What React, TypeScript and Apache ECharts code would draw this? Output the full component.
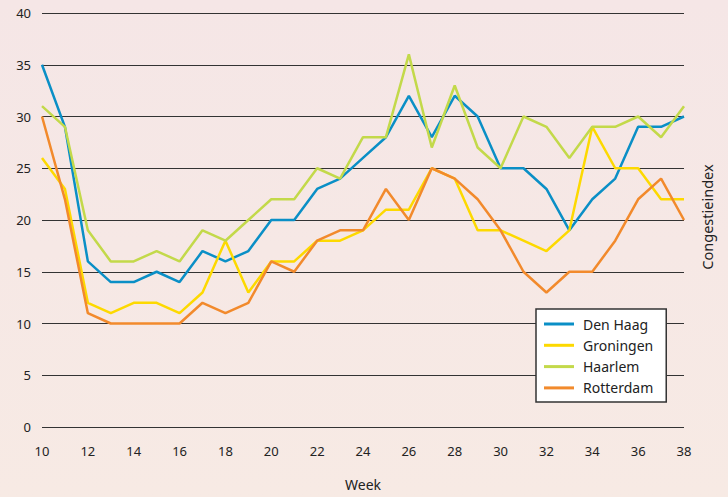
import React, { useEffect, useRef } from "react";
import * as echarts from "echarts";

const weeks = [10, 11, 12, 13, 14, 15, 16, 17, 18, 19, 20, 21, 22, 23, 24, 25, 26, 27, 28, 29, 30, 31, 32, 33, 34, 35, 36, 37, 38];
const denHaag = [35, 29, 16, 14, 14, 15, 14, 17, 16, 17, 20, 20, 23, 24, 26, 28, 32, 28, 32, 30, 25, 25, 23, 19, 22, 24, 29, 29, 30];
const groningen = [26, 23, 12, 11, 12, 12, 11, 13, 18, 13, 16, 16, 18, 18, 19, 21, 21, 25, 24, 19, 19, 18, 17, 19, 29, 25, 25, 22, 22];
const haarlem = [31, 29, 19, 16, 16, 17, 16, 19, 18, 20, 22, 22, 25, 24, 28, 28, 36, 27, 33, 27, 25, 30, 29, 26, 29, 29, 30, 28, 31];
const rotterdam = [30, 22, 11, 10, 10, 10, 10, 12, 11, 12, 16, 15, 18, 19, 19, 23, 20, 25, 24, 22, 19, 15, 13, 15, 15, 18, 22, 24, 20];

const seriesDefs = [
  { name: "Den Haag", data: denHaag, color: "#0a8fc6" },
  { name: "Groningen", data: groningen, color: "#fdd900" },
  { name: "Haarlem", data: haarlem, color: "#c3d94a" },
  { name: "Rotterdam", data: rotterdam, color: "#f28a2c" },
];

const FONT = "Noto Sans";

export default function App() {
  const ref = useRef<HTMLDivElement>(null);
  useEffect(() => {
    if (!ref.current) return;
    const chart = echarts.init(ref.current, undefined, { renderer: "svg" });
    chart.setOption({
      animation: false,
      backgroundColor: new echarts.graphic.LinearGradient(0, 0, 0, 1, [
        { offset: 0, color: "#f5e6e6" },
        { offset: 1, color: "#f7eae4" },
      ]),
      textStyle: { fontFamily: FONT },
      grid: { left: 42, right: 44, top: 13, bottom: 70 },
      legend: {
        orient: "vertical",
        left: 536,
        top: 309,
        backgroundColor: "#ffffff",
        borderColor: "#333333",
        borderWidth: 1.5,
        borderRadius: 0,
        padding: [8, 13, 7, 8],
        itemGap: 7.3,
        itemWidth: 30,
        itemHeight: 3,
        icon: "rect",
        textStyle: { fontFamily: FONT, fontSize: 14, color: "#222", lineHeight: 14, padding: [0, 0, 0, 4] },
        data: seriesDefs.map((s) => s.name),
      },
      xAxis: {
        type: "value",
        min: 10,
        max: 38,
        interval: 2,
        name: "Week",
        nameLocation: "middle",
        nameGap: 50,
        nameTextStyle: { fontFamily: FONT, fontSize: 14, color: "#222" },
        axisLine: { show: false },
        axisTick: { show: false },
        splitLine: { show: false },
        axisLabel: { fontFamily: FONT, fontSize: 13, color: "#222", margin: 17 },
      },
      yAxis: {
        type: "value",
        min: 0,
        max: 40,
        interval: 5,
        axisLine: { show: false },
        axisTick: { show: false },
        splitLine: { show: true, lineStyle: { color: "#333333", width: 1 } },
        axisLabel: { fontFamily: FONT, fontSize: 13, color: "#222", margin: 11 },
      },
      graphic: [
        {
          type: "text",
          x: 707,
          y: 217,
          rotation: Math.PI / 2,
          style: {
            text: "Congestieindex",
            fontFamily: FONT,
            fontSize: 14.5,
            fill: "#222",
            align: "center",
            verticalAlign: "middle",
          },
        },
      ],
      series: seriesDefs.map((s) => ({
        name: s.name,
        type: "line",
        data: weeks.map((w, i) => [w, s.data[i]]),
        showSymbol: false,
        symbol: "none",
        color: s.color,
        lineStyle: { color: s.color, width: 2.5 },
        itemStyle: { color: s.color },
      })),
    });
    return () => chart.dispose();
  }, []);
  return <div ref={ref} style={{ position: "fixed", left: 0, top: 0, width: 728, height: 497 }} />;
}
